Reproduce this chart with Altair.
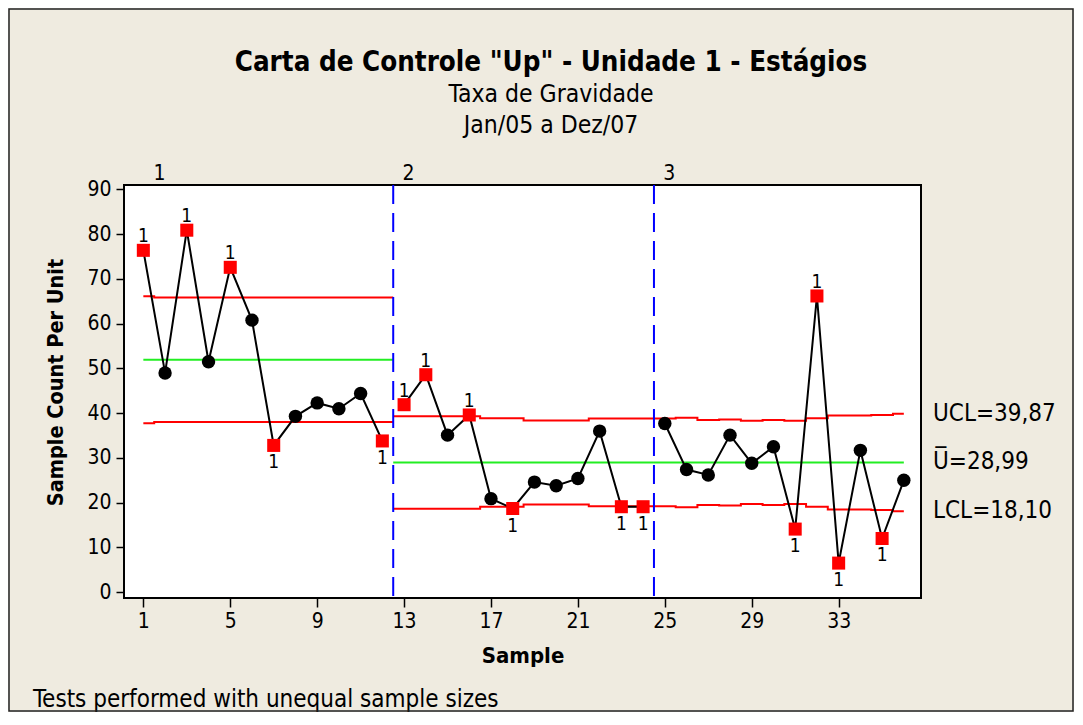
import altair as alt
import pandas as pd

# ---------------- data ----------------
samples = list(range(1, 37))
stages = [1] * 12 + [2] * 12 + [3] * 12
values = [76.4, 49.0, 80.9, 51.5, 72.6, 60.8, 32.8, 39.3, 42.3, 41.0, 44.4, 33.8,
          41.9, 48.6, 35.1, 39.6, 20.9, 18.7, 24.6, 23.8, 25.4, 36.0, 19.1, 19.1,
          37.7, 27.4, 26.2, 35.1, 28.8, 32.5, 14.1, 66.2, 6.5, 31.7, 12.0, 25.0]
center = [51.95] * 12 + [28.99] * 24
ucl = ([66.15] + [65.85] * 11
       + [39.34] * 4 + [38.89] * 2 + [38.39] * 3 + [38.79] * 3
       + [38.79, 38.99, 38.49, 38.59, 38.29, 38.49, 38.29, 38.89, 39.49, 39.49, 39.59, 39.87])
lcl = ([37.75] + [38.05] * 11
       + [18.64] * 4 + [19.09] * 2 + [19.59] * 3 + [19.19] * 3
       + [19.19, 18.99, 19.49, 19.39, 19.69, 19.49, 19.69, 19.09, 18.49, 18.49, 18.39, 18.10])
stage_names = ["1", "2", "3"]
stage_label_x = [1.75, 13.2, 25.2]

title = 'Carta de Controle "Up" - Unidade 1 - Estágios'
subtitle = ["Taxa de Gravidade", "Jan/05 a Dez/07"]
footnote = "Tests performed with unequal sample sizes"
x_ticks = [1, 5, 9, 13, 17, 21, 25, 29, 33]
y_ticks = list(range(0, 100, 10))

# ---------------- styling ----------------
FONT = "DejaVu Sans Condensed, DejaVu Sans"
BG = "#EFEBE0"
W, H = 797, 413
PAD = {"left": 116, "top": 177, "right": 153, "bottom": 114}
XDOM = [0.11, 36.79]
YDOM = [-1.3, 91.0]

df = pd.DataFrame({"sample": samples, "stage": stages, "value": values,
                   "ucl": ucl, "lcl": lcl, "center": center})
df["flag"] = (df["value"] > df["ucl"]) | (df["value"] < df["lcl"])
df["above"] = df["value"] > df["ucl"]

first, last = samples[0], samples[-1]
rows = []
for s in sorted(set(stages)):
    sub = df[df["stage"] == s]
    for kind in ["ucl", "lcl", "center"]:
        for _, r in sub.iterrows():
            rows.append({"stage": s, "kind": kind, "x": max(r["sample"] - 0.5, first), "y": r[kind]})
        r = sub.iloc[-1]
        rows.append({"stage": s, "kind": kind, "x": min(r["sample"] + 0.5, last), "y": r[kind]})
steps = pd.DataFrame(rows)
steps["key"] = steps["kind"] + steps["stage"].astype(str)

bounds = pd.DataFrame({"x": [df[df["stage"] == s]["sample"].max() + 0.5 for s in sorted(set(stages))[:-1]]})

end = df.iloc[-1]
def fmt(v):
    return f"{v:.2f}".replace(".", ",")
right_labels = pd.DataFrame({
    "y": [end["ucl"], end["center"], end["lcl"]],
    "t": ["UCL=" + fmt(end["ucl"]), "U\u0305=" + fmt(end["center"]), "LCL=" + fmt(end["lcl"])],
})
stage_df = pd.DataFrame({"x": stage_label_x, "t": stage_names})

xscale = alt.Scale(domain=XDOM, nice=False, zero=False)
yscale = alt.Scale(domain=YDOM, nice=False, zero=False)
xaxis = alt.Axis(values=x_ticks, grid=False, domain=False, tickSize=9, tickColor="black",
                 tickWidth=1.5, labelFont=FONT, labelFontSize=21, labelColor="black",
                 labelPadding=3, titleFont=FONT, titleFontSize=22, titleFontWeight="bold",
                 titleColor="black", titlePadding=14)
yaxis = alt.Axis(values=y_ticks, grid=False, domain=False, tickSize=8, tickColor="black",
                 tickWidth=1.5, labelFont=FONT, labelFontSize=21, labelColor="black",
                 labelPadding=5, titleFont=FONT, titleFontSize=21.5, titleFontWeight="bold",
                 titleColor="black", titlePadding=19, titleY=197)

def X(field):
    return alt.X(f"{field}:Q", scale=xscale, axis=xaxis, title="Sample")

def Y(field):
    return alt.Y(f"{field}:Q", scale=yscale, axis=yaxis, title="Sample Count Per Unit")

limits = alt.Chart(steps).transform_filter(alt.datum.kind != "center").mark_line(
    interpolate="step-after", color="#FF0000", strokeWidth=2
).encode(x=X("x"), y=Y("y"), detail="key:N")

centers = alt.Chart(steps).transform_filter(alt.datum.kind == "center").mark_line(
    interpolate="step-after", color="#22EE22", strokeWidth=2
).encode(x=X("x"), y=Y("y"), detail="key:N")

dividers = alt.Chart(bounds).mark_rule(color="#0000FF", strokeWidth=2, strokeDash=[19, 9]).encode(
    x=X("x"))

line = alt.Chart(df).mark_line(color="black", strokeWidth=2).encode(
    x=X("sample"), y=Y("value"), detail="stage:N")

circles = alt.Chart(df).transform_filter(~alt.datum.flag).mark_point(
    shape="circle", filled=True, color="black", size=180, opacity=1
).encode(x=X("sample"), y=Y("value"))

squares = alt.Chart(df).transform_filter(alt.datum.flag).mark_point(
    shape="square", filled=True, color="#FF0000", size=170, opacity=1
).encode(x=X("sample"), y=Y("value"))

lab_up = alt.Chart(df).transform_filter(alt.datum.flag & alt.datum.above).mark_text(
    text="1", font=FONT, fontSize=19, color="black", baseline="alphabetic", dy=-8
).encode(x=X("sample"), y=Y("value"))

lab_dn = alt.Chart(df).transform_filter(alt.datum.flag & ~alt.datum.above).mark_text(
    text="1", font=FONT, fontSize=19, color="black", baseline="alphabetic", dy=23
).encode(x=X("sample"), y=Y("value"))

rlabels = alt.Chart(right_labels).mark_text(
    font=FONT, fontSize=24, color="black", align="left", baseline="middle"
).encode(x=alt.value(W + 12), y=Y("y"), text="t:N")

stage_text = alt.Chart(stage_df).mark_text(
    font=FONT, fontSize=21, color="black", align="center", baseline="alphabetic", dy=-5
).encode(x=X("x"), y=alt.value(0), text="t:N")

def ptext(t, x, y, size, weight="normal", align="center"):
    return alt.Chart(pd.DataFrame({"t": [t]})).mark_text(
        font=FONT, fontSize=size, fontWeight=weight, color="black", align=align,
        baseline="alphabetic"
    ).encode(x=alt.value(x), y=alt.value(y), text="t:N")

t_main = ptext(title, 427, -114, 27.5, "bold")
t_sub1 = ptext(subtitle[0], 427, -83, 24.5)
t_sub2 = ptext(subtitle[1], 427, -52, 24.5)
t_foot = ptext(footnote, -91, 522, 24, align="left")

frame = alt.Chart(pd.DataFrame({"a": [0]})).mark_rect(
    fill=BG, fillOpacity=0, stroke="#222222", strokeWidth=1.5
).encode(x=alt.value(-PAD["left"] + 1), x2=alt.value(W + PAD["right"] - 1),
         y=alt.value(-PAD["top"] + 1), y2=alt.value(H + PAD["bottom"] - 1))

chart = alt.layer(
    limits, centers, dividers, line, circles, squares, lab_up, lab_dn,
    rlabels, stage_text, t_main, t_sub1, t_sub2, t_foot, frame
).properties(
    width=W, height=H, autosize=alt.AutoSizeParams(type="none"),
    padding=PAD, background=BG
).configure_view(
    fill="white", stroke="black", strokeWidth=2
)

chart.save("out.html", embed_options={"renderer": "svg", "actions": False})
